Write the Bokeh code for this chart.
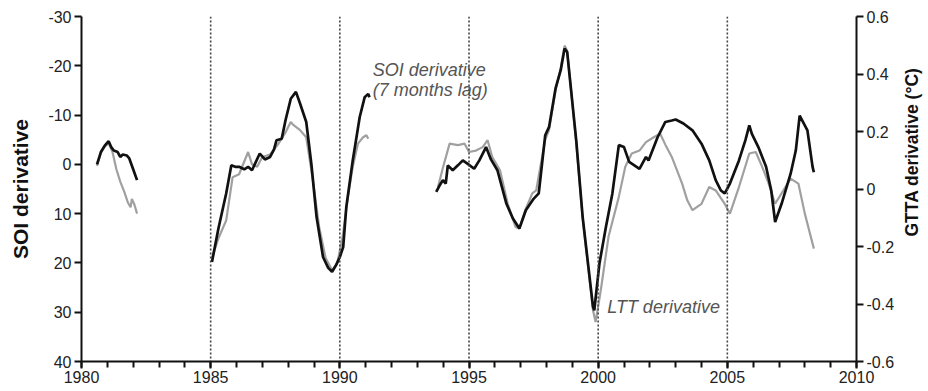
import math
from bokeh.plotting import figure
from bokeh.layouts import row
from bokeh.models import (Range1d, LinearAxis, FixedTicker, Span, Label,
                          CustomJSTickFormatter)
from bokeh.embed import file_html
from bokeh.resources import INLINE

NaN = float("nan")

# ---- data (SOI-derivative units, left axis) ----
black_years = [
    1980.6, 1980.75, 1980.9, 1981.05, 1981.15, 1981.25, 1981.4, 1981.5, 1981.6, 1981.75, 1981.85, 1982.0, 1982.15,
    NaN,
    1985.05, 1985.3, 1985.6, 1985.8, 1985.95, 1986.1, 1986.3, 1986.45, 1986.6, 1986.75, 1986.9, 1987.1, 1987.3,
    1987.45, 1987.55, 1987.75, 1987.9, 1988.1, 1988.3, 1988.45, 1988.7, 1988.9, 1989.1, 1989.35, 1989.55, 1989.7,
    1989.85, 1990.0, 1990.13, 1990.25, 1990.5, 1990.77, 1990.96, 1991.1, 1991.15,
    NaN,
    1993.73, 1993.86, 1993.99, 1994.1, 1994.18, 1994.37, 1994.57, 1994.76, 1994.95, 1995.2, 1995.4, 1995.66, 1995.85,
    1996.1, 1996.45, 1996.7, 1996.95, 1997.2, 1997.5, 1997.7, 1997.95, 1998.1, 1998.35, 1998.55, 1998.7, 1998.8,
    1999.15, 1999.4, 1999.8, 1999.85, 2000.05, 2000.3, 2000.55, 2000.8, 2001.0, 2001.2, 2001.6, 2001.85, 2001.95,
    2002.3, 2002.6, 2002.85, 2003.0, 2003.3, 2003.65, 2004.0, 2004.3, 2004.55, 2004.75, 2004.9, 2005.1, 2005.45,
    2005.7, 2005.85, 2005.95, 2006.2, 2006.5, 2006.7, 2006.85, 2007.1, 2007.45, 2007.65, 2007.8, 2008.1, 2008.3, 2008.35,
]
black_values = [
    0.0, -2.5, -3.8, -4.7, -3.5, -2.8, -2.5, -1.5, -2.0, -1.8, -1.2, 1.0, 3.2,
    NaN,
    19.8, 13.0, 5.9, 0.2, 0.5, 0.5, 1.0, 0.5, 1.2, -0.5, -2.2, -1.0, -1.5,
    -3.0, -4.9, -5.2, -9.0, -13.3, -14.7, -12.5, -8.6, 0.0, 10.7, 18.8, 21.0, 21.8,
    20.5, 18.8, 16.8, 8.7, -0.8, -9.6, -13.6, -14.3, -13.6,
    NaN,
    5.6, 4.3, 3.2, 3.9, 0.2, 1.2, 0.2, -0.8, -0.1, 0.9, -0.8, -3.5, -1.0,
    1.2, 8.0, 11.0, 13.0, 9.3, 7.0, 5.9, -5.9, -7.6, -15.4, -19.1, -23.5, -22.8,
    -4.9, 10.7, 28.9, 29.6, 20.1, 12.7, 5.9, -3.9, -3.5, -0.5, 0.9, -1.5, -0.8,
    -5.5, -8.6, -8.9, -9.1, -8.3, -6.9, -4.2, -0.8, 3.2, 5.3, 5.9, 3.9, -0.8,
    -4.9, -7.9, -6.2, -3.5, 0.5, 5.3, 11.7, 8.0, 1.9, -2.8, -9.9, -6.9, 0.5, 1.6,
]

grey_years = [
    1980.6, 1980.75, 1980.9, 1981.05, 1981.2, 1981.35, 1981.5, 1981.65, 1981.8, 1981.9, 1981.95, 1982.05, 1982.15,
    NaN,
    1985.05, 1985.3, 1985.6, 1985.85, 1986.1, 1986.45, 1986.6, 1986.8, 1987.0, 1987.3, 1987.6, 1987.9, 1988.1,
    1988.2, 1988.45, 1988.7, 1988.95, 1989.2, 1989.45, 1989.7, 1989.9, 1990.1, 1990.3, 1990.5, 1990.7, 1990.9,
    1991.03, 1991.1,
    NaN,
    1993.8, 1994.0, 1994.25, 1994.57, 1994.83, 1995.0, 1995.27, 1995.53, 1995.72, 1995.9, 1996.2, 1996.5, 1996.8,
    1996.95, 1997.2, 1997.45, 1997.6, 1997.95, 1998.1, 1998.35, 1998.55, 1998.7, 1998.8, 1999.15, 1999.4, 1999.8,
    1999.9, 2000.1, 2000.4, 2000.8, 2001.05, 2001.3, 2001.6, 2001.85, 2002.15, 2002.4, 2002.6, 2002.85, 2003.25,
    2003.45, 2003.65, 2004.0, 2004.3, 2004.55, 2004.9, 2005.1, 2005.45, 2005.85, 2006.1, 2006.35, 2006.6, 2006.85,
    2007.1, 2007.45, 2007.75, 2008.0, 2008.35,
]
grey_values = [
    0.3, -2.3, -3.6, -4.3, -2.5, 1.0, 3.5, 5.5, 7.8, 8.7, 7.0, 8.2, 10.0,
    NaN,
    19.0, 15.0, 11.4, 2.6, 2.0, -2.5, 0.0, 0.5, -1.5, -2.0, -4.0, -6.5, -8.6,
    -8.0, -7.0, -5.5, 3.0, 12.7, 19.0, 21.5, 20.0, 15.0, 7.0, 0.5, -4.2, -5.5,
    -5.9, -5.2,
    NaN,
    4.6, 0.5, -4.2, -3.9, -4.2, -2.5, -2.8, -3.5, -4.9, -1.5, 1.2, 8.0, 12.7,
    13.0, 9.0, 5.9, 5.3, -5.0, -7.0, -15.0, -19.5, -24.1, -23.0, -4.5, 11.0, 29.6,
    32.0, 25.6, 14.7, 6.6, 0.5, -2.2, -2.8, -4.5, -5.5, -6.2, -4.0, -1.5, 3.9,
    7.3, 9.3, 8.0, 4.6, 5.3, 8.0, 10.0, 4.6, -2.2, -2.5, 0.5, 3.9, 8.0,
    5.9, 2.9, 3.9, 10.0, 17.1,
]

x_ticks = [1980, 1985, 1990, 1995, 2000, 2005, 2010]
x_minor = list(range(1980, 2011))
soi_ticks = [-30, -20, -10, 0, 10, 20, 30, 40]
gtta_ticks = [-0.6, -0.4, -0.2, 0.0, 0.2, 0.4, 0.6]
ref_years = [1985, 1990, 1995, 2000, 2005]

FONT = "Liberation Sans"
H = 390
TOP = 16
BOTTOM = 29

p = figure(width=897, height=H, output_backend="svg", toolbar_location=None,
           x_range=Range1d(1980, 2010), y_range=Range1d(40, -30),
           min_border_left=81, min_border_right=40, min_border_top=TOP, min_border_bottom=BOTTOM)
p.outline_line_color = None
p.xgrid.visible = False
p.ygrid.visible = False
p.background_fill_color = "white"
p.border_fill_color = "white"

p.extra_y_ranges = {"gtta": Range1d(-0.6, 0.6)}

# vertical dotted reference lines
for yr in ref_years:
    p.add_layout(Span(location=yr, dimension="height", line_color="#444444",
                      line_dash="2 2", line_width=1.6))

p.line(grey_years, grey_values, line_color="#a0a0a0", line_width=2.2)
p.line(black_years, black_values, line_color="#111111", line_width=2.7)

# x axis
xa = p.xaxis[0]
xa.ticker = FixedTicker(ticks=x_ticks, minor_ticks=x_minor)
# left axis
ya = p.yaxis[0]
ya.ticker = FixedTicker(ticks=soi_ticks)
ya.formatter = CustomJSTickFormatter(code="return tick.toString();")
ya.axis_label = "SOI derivative"
ya.axis_label_standoff = 13

ra = LinearAxis(y_range_name="gtta", ticker=FixedTicker(ticks=gtta_ticks))
ra.formatter = CustomJSTickFormatter(code="return Math.abs(tick) < 1e-9 ? '0' : tick.toFixed(1);")
p.add_layout(ra, "right")

for ax in [xa, ya, ra]:
    ax.axis_line_width = 2
    ax.axis_line_color = "#111111"
    ax.major_tick_line_width = 2
    ax.major_tick_line_color = "#111111"
    ax.minor_tick_line_width = 2
    ax.minor_tick_line_color = "#111111"
    ax.major_tick_out = 7
    ax.major_tick_in = 0
    ax.minor_tick_in = 0
    ax.major_label_text_font = FONT
    ax.major_label_text_font_size = "16px"
    ax.major_label_text_color = "#222222"
    ax.axis_label_text_font = FONT
    ax.axis_label_text_font_style = "bold"
    ax.axis_label_text_color = "#111111"
    ax.major_label_standoff = 3

xa.minor_tick_out = 6
xa.major_label_standoff = 2
ya.minor_tick_out = 0
ra.minor_tick_out = 0
ya.axis_label_text_font_size = "21px"

# annotations
for ty, txt in [(-19.1, "SOI derivative"), (-15.0, "(7 months lag)")]:
    p.add_layout(Label(x=1991.27, y=ty, text=txt, text_font=FONT,
                       text_font_style="italic", text_font_size="18px", text_color="#555555",
                       text_baseline="middle"))
p.add_layout(Label(x=2000.35, y=29.0, text="LTT derivative", text_font=FONT,
                   text_font_style="italic", text_font_size="18px", text_color="#555555",
                   text_baseline="middle"))

# narrow strip on the right carrying the right-hand axis title
p2 = figure(width=29, height=H, output_backend="svg", toolbar_location=None,
            x_range=Range1d(0, 1), y_range=p.y_range,
            min_border_left=0, min_border_right=0, min_border_top=TOP, min_border_bottom=BOTTOM)
p2.xaxis.visible = False
p2.yaxis.visible = False
p2.xgrid.visible = False
p2.ygrid.visible = False
p2.outline_line_color = None
p2.add_layout(Label(x=0.5, y=-2.5, text="GTTA derivative (°C)", text_font=FONT,
                    text_font_style="bold", text_font_size="17.5px", text_color="#111111",
                    angle=math.pi / 2, text_align="center", text_baseline="middle"))

layout = row(p, p2, spacing=0)
open("out.html", "w").write(file_html(layout, INLINE))
